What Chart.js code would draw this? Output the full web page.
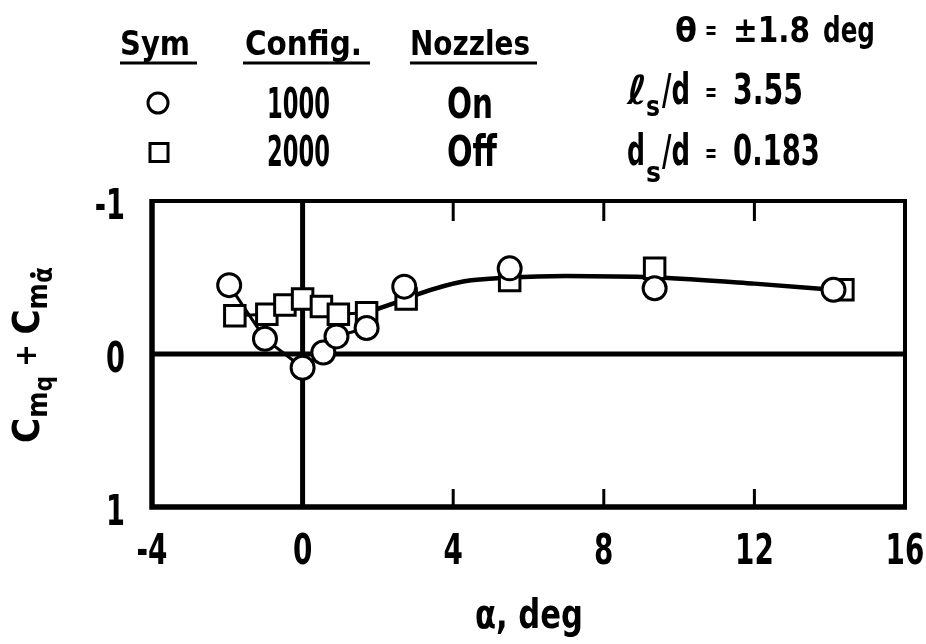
<!DOCTYPE html>
<html>
<head>
<meta charset="utf-8">
<script src="https://cdn.jsdelivr.net/npm/chart.js@4.4.1/dist/chart.umd.min.js"></script>
<style>
  html, body { margin: 0; padding: 0; background: #fff; }
  #wrap { width: 926px; height: 644px; position: relative; }
</style>
</head>
<body>
<div id="wrap"><canvas id="c" width="926" height="644"></canvas></div>
<script>
// Angle of attack (deg) and damping-in-pitch coefficient, configuration 1000 (nozzles on)
const alpha1000 = [-1.95, -1.0, 0.0, 0.55, 0.9, 1.7, 2.7, 5.5, 9.35, 14.1];
const cmq1000   = [-0.45, -0.10, 0.09, -0.01, -0.115, -0.17, -0.44, -0.56, -0.43, -0.42];

// Configuration 2000 (nozzles off)
const alpha2000 = [-1.8, -0.95, -0.47, 0.0, 0.5, 0.95, 1.7, 2.75, 5.5, 9.35, 14.35];
const cmq2000   = [-0.25, -0.26, -0.32, -0.36, -0.31, -0.26, -0.27, -0.36, -0.48, -0.56, -0.42];

// Faired curves through the data
const fairOnAlpha   = [-1.95, -1.0, 0.0, 0.55, 0.9, 1.7];
const fairOnCm      = [-0.45, -0.10, 0.09, -0.01, -0.115, -0.17];
const fairOffAlpha  = [-1.8, -0.95, -0.47, 0.0, 0.5, 0.95, 1.7];
const fairOffCm     = [-0.25, -0.26, -0.32, -0.36, -0.31, -0.26, -0.27];
const fairHighAlpha = [1.7, 2.75, 3.05, 4.3, 5.5, 7.0, 9.4, 12.0, 14.1];
const fairHighCm    = [-0.27, -0.36, -0.39, -0.475, -0.50, -0.51, -0.50, -0.46, -0.42];

// Axis ticks
const xTicks = [-4, 0, 4, 8, 12, 16];
const yTicks = [-1, 0, 1];
const innerTicksX = [4, 8, 12];

const FONT = "'Liberation Sans Narrow', 'Arial Narrow', 'DejaVu Sans Condensed', sans-serif";
const LABEL_SQUEEZE = 0.72;   // narrow lettering for the tick numbers

function pts(xs, ys) { return xs.map((v, i) => ({ x: v, y: ys[i] })); }

// Draw a string scaled horizontally to a given width
function txt(ctx, str, left, base, size, width, style) {
  ctx.save();
  ctx.font = (style || 'bold') + ' ' + size + 'px ' + FONT;
  ctx.textAlign = 'left';
  ctx.textBaseline = 'alphabetic';
  const w = ctx.measureText(str).width;
  ctx.translate(left, base);
  ctx.scale(width / w, 1);
  ctx.fillText(str, 0, 0);
  ctx.restore();
}

// Tick labels are laid out by the scales, then drawn with narrowed glyphs
function squeezeLabels(scale) {
  if (scale._squeezed || typeof scale.getLabelItems !== 'function') return;
  scale._squeezed = true;
  scale.drawLabels = function (chartArea) {
    const ctx = this.ctx;
    for (const item of this.getLabelItems(chartArea)) {
      const o = item.options;
      ctx.save();
      ctx.translate(o.translation[0], o.translation[1]);
      ctx.scale(LABEL_SQUEEZE, 1);
      ctx.font = item.font.string;
      ctx.fillStyle = o.color;
      ctx.textAlign = o.textAlign;
      ctx.textBaseline = o.textBaseline;
      const lines = Array.isArray(item.label) ? item.label : [item.label];
      lines.forEach((l, i) => ctx.fillText(l, 0, item.textOffset + i * item.font.lineHeight));
      ctx.restore();
    }
  };
}

const frame = {
  id: 'frame',
  afterLayout(chart) {
    squeezeLabels(chart.scales.x);
    squeezeLabels(chart.scales.y);
  },
  beforeDatasetsDraw(chart) {
    const { ctx, chartArea: a, scales: { x, y } } = chart;
    ctx.save();
    ctx.strokeStyle = '#000';
    ctx.lineCap = 'butt';
    // zero reference lines
    ctx.lineWidth = 5;
    const y0 = y.getPixelForValue(0), x0 = x.getPixelForValue(0);
    ctx.beginPath();
    ctx.moveTo(a.left, y0); ctx.lineTo(a.right, y0);
    ctx.moveTo(x0, a.top); ctx.lineTo(x0, a.bottom);
    ctx.stroke();
    // inward tick marks
    ctx.lineWidth = 3;
    ctx.beginPath();
    innerTicksX.forEach(v => {
      const px = x.getPixelForValue(v);
      ctx.moveTo(px, a.top); ctx.lineTo(px, a.top + 20);
      ctx.moveTo(px, a.bottom); ctx.lineTo(px, a.bottom - 18);
    });
    ctx.stroke();
    // plot border
    ctx.lineWidth = 4;
    ctx.beginPath();
    ctx.moveTo(a.left, a.top); ctx.lineTo(a.right, a.top); ctx.lineTo(a.right, a.bottom);
    ctx.stroke();
    ctx.lineWidth = 5.5;
    ctx.beginPath();
    ctx.moveTo(a.left, a.top - 2); ctx.lineTo(a.left, a.bottom); ctx.lineTo(a.right + 2, a.bottom);
    ctx.stroke();
    ctx.restore();
  },
  afterDraw(chart) {
    const ctx = chart.ctx;
    ctx.save();
    ctx.fillStyle = '#000';
    ctx.strokeStyle = '#000';

    // key table
    txt(ctx, 'Sym', 120, 55, 34, 70);
    txt(ctx, 'Config.', 245, 55, 34, 117);
    txt(ctx, 'Nozzles', 410, 55, 34, 120);
    ctx.lineWidth = 3;
    ctx.beginPath();
    ctx.moveTo(120, 63); ctx.lineTo(197, 63);
    ctx.moveTo(243, 63); ctx.lineTo(370, 63);
    ctx.moveTo(410, 63); ctx.lineTo(537, 63);
    ctx.stroke();
    ctx.beginPath();
    ctx.arc(158, 103, 10, 0, Math.PI * 2);
    ctx.stroke();
    ctx.strokeRect(150, 143.5, 18, 18);
    txt(ctx, '1000', 267, 118, 42, 63);
    txt(ctx, 'On', 447, 118, 42, 46);
    txt(ctx, '2000', 267, 166, 42, 63);
    txt(ctx, 'Off', 447, 166, 42, 50);

    // test conditions
    txt(ctx, 'θ', 675, 42, 34, 22);
    txt(ctx, '=', 705, 39, 26, 12);
    txt(ctx, '±1.8', 733, 42, 35, 77);
    txt(ctx, 'deg', 823, 42, 35, 52);

    txt(ctx, 'ℓ', 627, 104, 40, 20, 'italic bold');
    txt(ctx, 's', 646, 116, 28, 14);
    txt(ctx, '/d', 662, 104, 42, 28);
    txt(ctx, '=', 705, 101, 26, 12);
    txt(ctx, '3.55', 733, 104, 42, 70);

    txt(ctx, 'd', 627, 165, 42, 18);
    txt(ctx, 's', 646, 182, 28, 15);
    txt(ctx, '/d', 662, 165, 42, 28);
    txt(ctx, '=', 705, 162, 26, 12);
    txt(ctx, '0.183', 733, 165, 42, 87);

    // x-axis title
    txt(ctx, 'α, deg', 475, 628, 40, 108);

    // y-axis title, rotated
    const parts = [
      { t: 'C', s: 38, dy: 0 },
      { t: 'm', s: 28, dy: 8 },
      { t: 'q', s: 24, dy: 13 },
      { t: ' + ', s: 30, dy: -3 },
      { t: 'C', s: 38, dy: 0 },
      { t: 'm', s: 28, dy: 8 },
      { t: 'α', s: 26, dy: 13, dot: true }
    ];
    let total = 0;
    parts.forEach(p => { ctx.font = 'bold ' + p.s + 'px ' + FONT; p.w = ctx.measureText(p.t).width; total += p.w; });
    const start = 443, end = 267;
    ctx.translate(39, start);
    ctx.rotate(-Math.PI / 2);
    ctx.scale((start - end) / total, 1);
    ctx.textAlign = 'left';
    let cx = 0;
    parts.forEach(p => {
      ctx.font = 'bold ' + p.s + 'px ' + FONT;
      ctx.fillText(p.t, cx, p.dy);
      if (p.dot) {
        ctx.beginPath();
        ctx.arc(cx + p.w / 2, p.dy - p.s * 0.74, 2.8, 0, Math.PI * 2);
        ctx.fill();
      }
      cx += p.w;
    });
    ctx.restore();
  }
};

const lineStyle = { showLine: true, pointRadius: 0, borderColor: '#000', backgroundColor: '#000', fill: false };

new Chart(document.getElementById('c'), {
  type: 'scatter',
  data: {
    datasets: [
      { label: '1000', data: pts(alpha1000, cmq1000), pointStyle: 'circle', pointRadius: 11.5,
        borderWidth: 3, borderColor: '#000', backgroundColor: '#fff', order: 0 },
      { label: '2000', data: pts(alpha2000, cmq2000), pointStyle: 'rect', pointRadius: 14.5,
        borderWidth: 3, borderColor: '#000', backgroundColor: '#fff', order: 1 },
      Object.assign({ label: 'fair on', data: pts(fairOnAlpha, fairOnCm), borderWidth: 3, tension: 0, order: 2 }, lineStyle),
      Object.assign({ label: 'fair off', data: pts(fairOffAlpha, fairOffCm), borderWidth: 3, tension: 0, order: 3 }, lineStyle),
      Object.assign({ label: 'fair high', data: pts(fairHighAlpha, fairHighCm), borderWidth: 4.5,
        cubicInterpolationMode: 'monotone', order: 4 }, lineStyle)
    ]
  },
  options: {
    responsive: false,
    animation: false,
    devicePixelRatio: 1,
    layout: { padding: { top: 201, right: 21, bottom: 0, left: 0 } },
    plugins: { legend: { display: false }, tooltip: { enabled: false } },
    scales: {
      x: {
        type: 'linear', min: -4, max: 16,
        grid: { display: false, drawTicks: false },
        border: { display: false },
        afterBuildTicks: s => { s.ticks = xTicks.map(v => ({ value: v })); },
        afterFit: s => { s.height = 137; s.paddingLeft = 0; s.paddingRight = 0; },
        ticks: { color: '#000', padding: 20, font: { family: FONT, size: 43, weight: 'bold' } }
      },
      y: {
        type: 'linear', min: -1, max: 1, reverse: true,
        grid: { display: false, drawTicks: false },
        border: { display: false },
        afterBuildTicks: s => { s.ticks = yTicks.map(v => ({ value: v })); },
        afterFit: s => { s.width = 152; s.paddingTop = 0; s.paddingBottom = 0; },
        ticks: { color: '#000', padding: 27, labelOffset: 7, font: { family: FONT, size: 42, weight: 'bold' } }
      }
    }
  },
  plugins: [frame]
});
</script>
</body>
</html>
